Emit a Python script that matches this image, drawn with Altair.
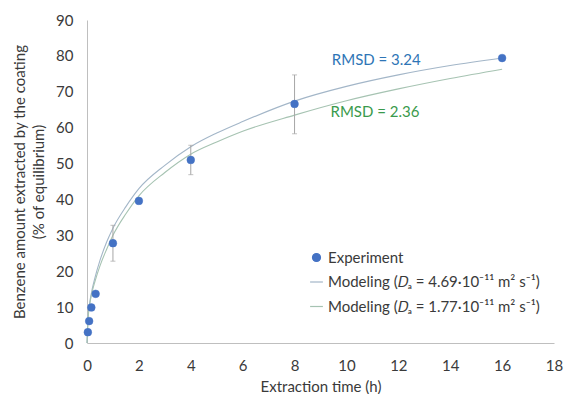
import altair as alt
import pandas as pd

# ---- data ----
exp_t = [0.033, 0.083, 0.167, 0.333, 1, 2, 4, 8, 16]
exp_y = [3.0, 6.1, 9.9, 13.7, 27.8, 39.6, 51.0, 66.6, 79.4]

err_t = [1, 4, 8]
err_lo = [22.8, 46.9, 58.3]
err_hi = [32.8, 55.1, 74.7]

model_t = [0, 0.05, 0.1, 0.2, 0.3, 0.5, 0.75, 1, 1.5, 2, 3, 4, 5, 6, 8, 10, 12, 14, 16]
model_a = [0, 8.0, 11.0, 15.0, 18.0, 23.0, 28.0, 32.0, 38.0, 43.0, 49.5, 54.7, 58.5, 61.7, 67.4, 71.5, 74.7, 77.3, 79.4]
model_b = [0, 7.5, 10.5, 14.3, 17.0, 21.5, 26.0, 30.0, 36.0, 41.0, 47.5, 52.6, 56.0, 59.0, 63.5, 67.5, 70.8, 73.7, 76.3]

series = [
    "Experiment",
    "Modeling (\U0001D437\u2090 = 4.69\u00b710\u207b\u00b9\u00b9 m\u00b2 s\u207b\u00b9)",
    "Modeling (\U0001D437\u2090 = 1.77\u00b710\u207b\u00b9\u00b9 m\u00b2 s\u207b\u00b9)",
]
colors = ["#4472c4", "#a3b6c8", "#a6c3b2"]

rmsd_text = ["RMSD = 3.24", "RMSD = 2.36"]
rmsd_x = [11.15, 11.1]
rmsd_y = [78.8, 64.5]
rmsd_col = ["#2e75b6", "#3a9a4c"]

x_ticks = list(range(0, 19, 2))
y_ticks = list(range(0, 91, 10))

exp_df = pd.DataFrame({"t": exp_t, "y": exp_y, "series": series[0]})
err_df = pd.DataFrame({"t": err_t, "lo": err_lo, "hi": err_hi})
ma_df = pd.DataFrame({"t": model_t, "y": model_a})
mb_df = pd.DataFrame({"t": model_t, "y": model_b})

FONT = "Lato"
TXT = "#3a3a3a"
FS = 15

xs = alt.Scale(domain=[0, 18], nice=False, zero=True)
ys = alt.Scale(domain=[0, 90], nice=False)

xax = alt.Axis(values=x_ticks, title="Extraction time (h)", ticks=False,
               labelPadding=15, titlePadding=6, labelFlush=False, labelOverlap=False)
yax = alt.Axis(values=y_ticks, ticks=False, labelPadding=14,
               labelFlush=False, labelOverlap=False,
               title=["Benzene amount extracted by the coating", "(% of equilibrium)"],
               titlePadding=9, titleLineHeight=19)


def X(f):
    return alt.X(f, scale=xs, axis=xax)


def Y(f):
    return alt.Y(f, scale=ys, axis=yax)


line_a = alt.Chart(ma_df).mark_line(color=colors[1], strokeWidth=1.1, interpolate="monotone").encode(
    x=X("t:Q"), y=Y("y:Q"))
line_b = alt.Chart(mb_df).mark_line(color=colors[2], strokeWidth=1.1, interpolate="monotone").encode(
    x=X("t:Q"), y=Y("y:Q"))

err_rule = alt.Chart(err_df).mark_rule(color="#a6a6a6", strokeWidth=1).encode(
    x=X("t:Q"), y=Y("lo:Q"), y2="hi:Q")
err_lo_tick = alt.Chart(err_df).mark_tick(color="#a6a6a6", orient="horizontal", size=5, thickness=1).encode(
    x=X("t:Q"), y=Y("lo:Q"))
err_hi_tick = alt.Chart(err_df).mark_tick(color="#a6a6a6", orient="horizontal", size=5, thickness=1).encode(
    x=X("t:Q"), y=Y("hi:Q"))

legend = alt.Legend(title=None, orient="none", legendX=222, legendY=230, padding=0,
                    symbolSize=64, symbolStrokeWidth=1.2, labelFontSize=FS, labelFont=FONT,
                    labelColor=TXT, rowPadding=8.5, labelOffset=4, labelLimit=400)
cscale = alt.Scale(domain=series, range=colors)
sscale = alt.Scale(domain=series, range=["circle", "M-1.6,0H1.6", "M-1.6,0H1.6"])

points = alt.Chart(exp_df).mark_point(filled=True, size=60, opacity=1, strokeWidth=0.5).encode(
    x=X("t:Q"), y=Y("y:Q"),
    color=alt.Color("series:N", scale=cscale, legend=legend),
    stroke=alt.Stroke("series:N", scale=cscale, legend=legend),
    shape=alt.Shape("series:N", scale=sscale, legend=legend),
)

rmsd_df = pd.DataFrame({"t": rmsd_x, "y": rmsd_y, "txt": rmsd_text, "c": rmsd_col})
rmsd = alt.Chart(rmsd_df).mark_text(fontSize=FS, font=FONT, align="center", baseline="middle").encode(
    x=X("t:Q"), y=Y("y:Q"), text="txt:N", color=alt.Color("c:N", scale=None))

chart = alt.layer(line_a, line_b, err_rule, err_lo_tick, err_hi_tick, points, rmsd).properties(
    width=467, height=323,
    autosize=alt.AutoSizeParams(type="none"),
    padding={"left": 79, "top": 12, "right": 14, "bottom": 51},
).configure_view(stroke=None).configure_axis(
    grid=False, domainColor="#bfbfbf", domainWidth=1,
    labelFont=FONT, labelFontSize=FS, labelColor=TXT,
    titleFont=FONT, titleFontSize=FS, titleFontWeight="normal", titleColor=TXT,
).configure_text(font=FONT)

chart.save("out.html", embed_options={"renderer": "svg", "actions": False})
